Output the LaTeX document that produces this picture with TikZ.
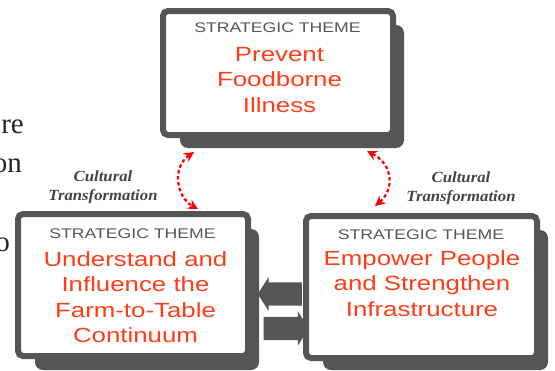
\documentclass[tikz,border=0pt]{standalone}
\usepackage{fontspec}
\usetikzlibrary{shapes.arrows,arrows.meta}
\setmainfont{Liberation Serif}
\newfontfamily\themefont[FakeStretch=1.26]{Liberation Sans}
\newfontfamily\culturefont[FakeStretch=1.08]{Liberation Serif}
\definecolor{boxgray}{HTML}{555555}
\definecolor{themered}{HTML}{FF3D17}
\definecolor{culturegray}{HTML}{444444}
\tikzset{
  x=1pt,y=-1pt,
  shadowbox/.style={fill=boxgray,rounded corners=8pt},
  themebox/.style={draw=boxgray,line width=6pt,fill=white,rounded corners=5pt,inner sep=0pt},
  themetitle/.style={font=\themefont\fontsize{14}{18}\selectfont,text=boxgray,anchor=center,inner sep=0pt},
  themetext/.style={font=\themefont\fontsize{20.5}{25.5}\selectfont,text=themered,align=center,anchor=north,inner sep=0pt},
  culture/.style={font=\culturefont\bfseries\itshape\fontsize{15.5}{19}\selectfont,text=culturegray,align=center,inner sep=0pt},
  backtext/.style={font=\fontsize{29}{30}\selectfont,text=black!85,anchor=base east,inner sep=0pt},
  linkarrow/.style={draw=red,line width=2.2pt,dash pattern=on 3.5pt off 2.5pt,{Stealth[length=10pt,width=10pt]}-{Stealth[length=10pt,width=10pt]}},
  blockarrow/.style={single arrow,fill=boxgray,text height=23pt,text depth=0pt,single arrow head extend=5.5pt,single arrow tip angle=115,inner sep=0pt,anchor=center},
}
\begin{document}
\begin{tikzpicture}
\useasboundingbox (0,0) rectangle (555,370);
\node[backtext] (bgA) at (24,133) {re};
\node[backtext] (bgB) at (22,172) {on};
\node[backtext] (bgC) at (10,251) {o};
% shadows
\fill[shadowbox] (180,25) rectangle (404,148);
\fill[shadowbox] (35,229) rectangle (259,370);
\fill[shadowbox] (323,230) rectangle (548,370);
% boxes
\node[themebox,minimum width=230pt,minimum height=124pt] (top) at (278,73) {};
\node[themebox,minimum width=230pt,minimum height=142pt] (left) at (133,285) {};
\node[themebox,minimum width=231pt,minimum height=142pt] (right) at (421.5,287) {};
% titles
\node[themetitle] (topT) at (277.5,28) {STRATEGIC THEME};
\node[themetitle] (leftT) at (132.5,233.5) {STRATEGIC THEME};
\node[themetitle] (rightT) at (421,234.5) {STRATEGIC THEME};
% themes
\node[themetext] (topM) at (279.5,47) {Prevent\\Foodborne\\Illness};
\node[themetext] (leftM) at (135.5,251) {Understand and\\Influence the\\Farm-to-Table\\Continuum};
\node[themetext] (rightM) at (422,250) {Empower People\\and Strengthen\\Infrastructure};
% culture
\node[culture] (cA) at (103,187.5) {Cultural\\Transformation};
\node[culture] (cB) at (461,188.5) {Cultural\\Transformation};
% links
\coordinate (a1) at (194,152);
\coordinate (a2) at (198,209);
\coordinate (b1) at (367,151);
\coordinate (b2) at (375,206);
\draw[linkarrow] (a1) .. controls (172,167) and (176,197) .. (a2);
\draw[linkarrow] (b1) .. controls (394,165) and (394,190) .. (b2);
% block arrows
\node[blockarrow,minimum height=44pt,shape border rotate=180] (bl) at (283.5,294) {};
\node[blockarrow,minimum height=45pt] (br) at (282.5,328.5) {};
\end{tikzpicture}
\end{document}
